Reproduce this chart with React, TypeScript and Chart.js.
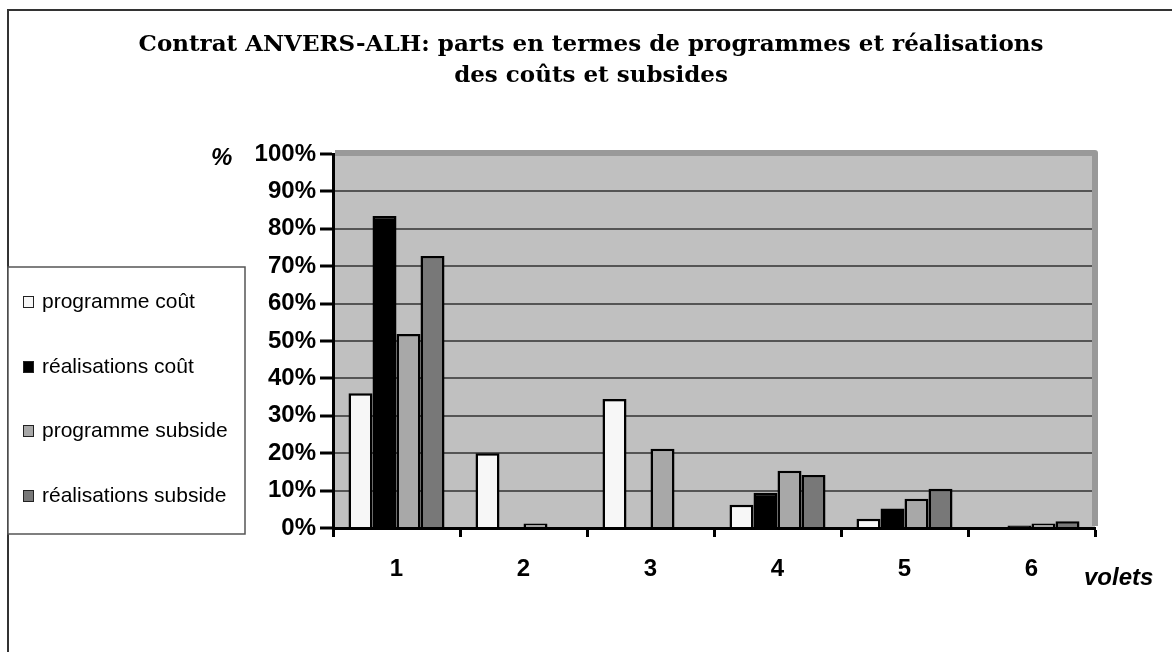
import React, { useEffect, useRef } from "react";
import { Chart, registerables } from "chart.js";

Chart.register(...registerables);

const categories = ["1", "2", "3", "4", "5", "6"];
const programmeCout = [36, 20, 34.5, 6.2, 2.5, 0];
const realisationsCout = [83.4, 0, 0, 9.4, 5.2, 0.7];
const programmeSubside = [51.9, 1.2, 21.2, 15.3, 7.8, 1.2];
const realisationsSubside = [72.7, 0, 0, 14.2, 10.5, 1.8];
const seriesNames = ["programme coût", "réalisations coût", "programme subside", "réalisations subside"];
const seriesColors = ["#f7f7f7", "#000000", "#a8a8a8", "#787878"];
const titleLines = [
  "Contrat ANVERS-ALH: parts en termes de programmes et réalisations",
  "des coûts et subsides",
];
const yAxisTitle = "%";
const xAxisTitle = "volets";

const W = 1172;
const H = 652;

const decor = {
  id: "decor",
  beforeDraw(chart: any) {
    const { ctx, chartArea: a } = chart;
    ctx.save();
    ctx.fillStyle = "#ffffff";
    ctx.fillRect(0, 0, chart.width, chart.height);
    ctx.fillStyle = "#c0c0c0";
    ctx.fillRect(a.left, a.top, a.right - a.left, a.bottom - a.top);
    ctx.restore();
  },
  beforeDatasetsDraw(chart: any) {
    const { ctx, chartArea: a } = chart;
    ctx.save();
    ctx.strokeStyle = "#999999";
    ctx.lineWidth = 6;
    ctx.lineJoin = "round";
    ctx.beginPath();
    ctx.moveTo(a.left + 2, a.top - 1);
    ctx.lineTo(a.right, a.top - 1);
    ctx.lineTo(a.right, a.bottom - 2);
    ctx.stroke();
    ctx.restore();
  },
  afterDraw(chart: any) {
    const { ctx } = chart;
    ctx.save();
    // outer frame
    ctx.strokeStyle = "#333333";
    ctx.lineWidth = 2;
    ctx.strokeRect(8, 10, W + 50, H + 50);

    // title
    ctx.fillStyle = "#000000";
    ctx.font = "bold 23px 'DejaVu Serif'";
    ctx.textAlign = "center";
    ctx.textBaseline = "middle";
    ctx.fillText(titleLines[0], 591, 45);
    ctx.fillText(titleLines[1], 591, 76);

    // axis titles
    ctx.font = "italic bold 24px 'Liberation Sans'";
    ctx.textAlign = "left";
    ctx.fillText(yAxisTitle, 211, 158);
    ctx.fillText(xAxisTitle, 1084, 578);

    // legend box
    ctx.fillStyle = "#ffffff";
    ctx.fillRect(8, 267, 237, 267);
    ctx.strokeStyle = "#555555";
    ctx.lineWidth = 1.5;
    ctx.strokeRect(8, 267, 237, 267);
    const ys = [302, 367, 431, 496];
    ctx.font = "21px 'Liberation Sans'";
    ctx.textBaseline = "middle";
    seriesNames.forEach((name, i) => {
      const y = ys[i];
      ctx.fillStyle = seriesColors[i];
      ctx.fillRect(23, y - 6, 11, 12);
      ctx.strokeStyle = "#222222";
      ctx.lineWidth = 1;
      ctx.strokeRect(23.5, y - 5.5, 10, 11);
      ctx.fillStyle = "#000000";
      ctx.fillText(name, 42, y);
    });
    ctx.restore();
  },
};

export default function App() {
  const ref = useRef<HTMLCanvasElement | null>(null);
  useEffect(() => {
    if (!ref.current) return;
    const data = {
      labels: categories,
      datasets: [programmeCout, realisationsCout, programmeSubside, realisationsSubside].map((d, i) => ({
        label: seriesNames[i],
        data: d,
        backgroundColor: seriesColors[i],
        borderColor: "#000000",
        borderWidth: 2.5,
        barPercentage: 1,
        categoryPercentage: 0.756,
      })),
    };
    const chart = new Chart(ref.current, {
      type: "bar",
      data,
      plugins: [decor],
      options: {
        responsive: false,
        animation: false,
        layout: { padding: { left: 233, top: 154, right: 77, bottom: 64 } },
        plugins: {
          legend: { display: false },
          title: { display: false },
          tooltip: { enabled: false },
        },
        scales: {
          x: {
            afterFit: (s: any) => {
              s.height = 60;
            },
            border: { display: true, color: "#000000", width: 3 },
            grid: {
              display: true,
              offset: true,
              drawOnChartArea: false,
              drawTicks: true,
              tickLength: 9,
              tickColor: "#000000",
              tickWidth: 3,
            },
            ticks: {
              color: "#000000",
              padding: 18,
              font: { family: "'Liberation Sans'", size: 24, weight: "bold" },
            },
          },
          y: {
            min: 0,
            max: 100,
            afterFit: (s: any) => {
              s.width = 100;
            },
            border: { display: true, color: "#000000", width: 3 },
            grid: {
              color: (c: any) => (c.tick && (c.tick.value === 100 || c.tick.value === 0) ? "rgba(0,0,0,0)" : "#555555"),
              lineWidth: 2,
              drawTicks: true,
              tickLength: 13,
              tickColor: "#000000",
              tickWidth: 3,
            },
            ticks: {
              stepSize: 10,
              color: "#000000",
              padding: 4,
              font: { family: "'Liberation Sans'", size: 24, weight: "bold" },
              callback: (v: any) => v + "%",
            },
          },
        },
      },
    });
    return () => chart.destroy();
  }, []);
  return (
    <div style={{ position: "absolute", left: 0, top: 0, width: W, height: H, background: "#fff" }}>
      <canvas ref={ref} width={W} height={H} style={{ width: W, height: H, display: "block" }} />
    </div>
  );
}
